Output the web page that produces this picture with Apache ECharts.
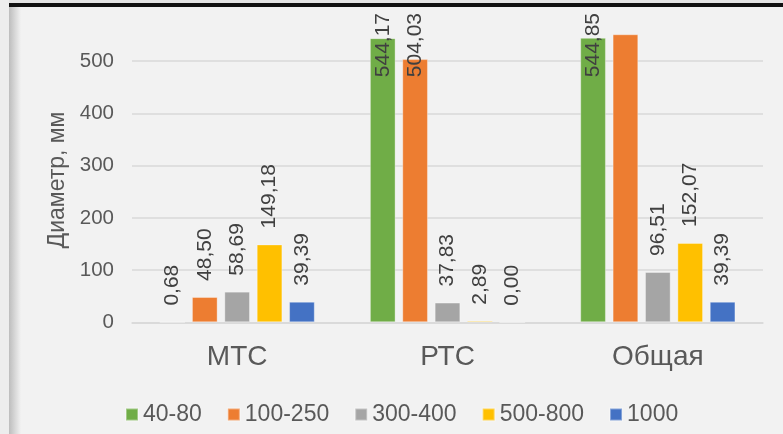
<!DOCTYPE html>
<html>
<head>
<meta charset="utf-8">
<script src="https://cdn.jsdelivr.net/npm/echarts@6/dist/echarts.min.js"></script>
<style>
  html, body, #main { width: 100%; height: 100%; margin: 0; background: #f2f2f2; }
</style>
</head>
<body>
<div id="main"></div>
<script>
var categories = ['МТС', 'РТС', 'Общая'];
var seriesNames = ['40-80', '100-250', '300-400', '500-800', '1000'];
var v40_80 = [0.68, 544.17, 544.85];
var v100_250 = [48.50, 504.03, 551.6];
var v300_400 = [58.69, 37.83, 96.51];
var v500_800 = [149.18, 2.89, 152.07];
var v1000 = [39.39, 0.00, 39.39];
var yTicks = [0, 100, 200, 300, 400, 500, 600];

var colors = ['#70ad47', '#ed7d31', '#a5a5a5', '#ffc000', '#4472c4'];
var allValues = [v40_80, v100_250, v300_400, v500_800, v1000];
var FONT = "'Liberation Sans', Arial, sans-serif";
var LABEL_SIZE = 21, LABEL_DIST = 16, LABEL_TOP = 13;

function fmt(v) { return v.toFixed(2).replace('.', ','); }

var chart = echarts.init(document.getElementById('main'));

function buildSeries(offsets) {
  return seriesNames.map(function (name, si) {
    return {
      name: name,
      type: 'bar',
      barWidth: 25.7,
      barGap: '26%',
      itemStyle: { color: colors[si], borderColor: 'rgba(255,255,255,0.35)', borderWidth: 1 },
      label: {
        show: true,
        position: 'top',
        rotate: 90,
        align: 'left',
        verticalAlign: 'middle',
        distance: LABEL_DIST,
        fontSize: LABEL_SIZE,
        fontFamily: FONT,
        color: '#404040',
        formatter: function (p) { return fmt(p.value); }
      },
      data: allValues[si].map(function (v, ci) {
        var item = { value: v };
        if (si === 1 && ci === 2) {
          item.label = { show: false };
        } else if (offsets && offsets[si][ci]) {
          // offset is in the rotated text frame: -x moves the label down
          item.label = { offset: [-offsets[si][ci], 0] };
        }
        return item;
      })
    };
  });
}

var option = {
  backgroundColor: '#f2f2f2',
  animation: false,
  textStyle: { fontFamily: FONT },
  grid: { left: 132, right: 20, top: 9, bottom: 111.7 },
  legend: {
    left: 125,
    top: 403,
    padding: 0,
    itemWidth: 12,
    itemHeight: 12,
    itemGap: 25,
    icon: 'rect',
    textStyle: { fontSize: 23, color: '#595959', fontFamily: FONT },
    data: seriesNames
  },
  xAxis: {
    type: 'category',
    data: categories,
    axisLine: { lineStyle: { color: '#d9d9d9', width: 1.5 } },
    axisTick: { show: false },
    axisLabel: { fontSize: 28, color: '#595959', margin: 21, fontFamily: FONT }
  },
  yAxis: {
    type: 'value',
    min: yTicks[0],
    max: yTicks[yTicks.length - 1],
    interval: 100,
    axisLine: { show: false },
    axisTick: { show: false },
    axisLabel: {
      fontSize: 20.5, color: '#595959', margin: 18, fontFamily: FONT,
      formatter: function (v) { return v === 600 ? '' : String(v); }
    },
    splitLine: { lineStyle: { color: '#d9d9d9', width: 1.5 } }
  },
  graphic: [
    { type: 'rect', z: 100, shape: { x: 0, y: 7, width: 783, height: 4 }, style: { fill: '#f2f2f2' } },
    { type: 'rect', z: 101, shape: { x: 0, y: 0, width: 783, height: 3 }, style: { fill: '#e4e4e4' } },
    { type: 'rect', z: 101, shape: { x: 0, y: 3, width: 783, height: 4 }, style: { fill: '#111111' } },
    { type: 'rect', z: 102, shape: { x: 0, y: 0, width: 9, height: 434 }, style: { fill: '#ededed' } },
    {
      type: 'rect', z: 102, shape: { x: 9, y: 7, width: 12, height: 427 },
      style: {
        fill: new echarts.graphic.LinearGradient(0, 0, 1, 0, [
          { offset: 0, color: '#bdbdbd' },
          { offset: 1, color: '#f2f2f2' }
        ])
      }
    },
    {
      type: 'text', z: 50, x: 58, y: 180, rotation: Math.PI / 2,
      style: {
        text: 'Диаметр, мм', fontSize: 23, fontFamily: FONT, fill: '#595959',
        textAlign: 'center', textVerticalAlign: 'middle'
      }
    }
  ],
  series: buildSeries(null)
};

chart.setOption(option);

// labels that would run past the plot top are pushed down, as in the original
var ctx = document.createElement('canvas').getContext('2d');
ctx.font = LABEL_SIZE + 'px ' + FONT;
var offsets = allValues.map(function (arr) {
  return arr.map(function (v) {
    var y = chart.convertToPixel({ yAxisIndex: 0 }, v);
    var w = ctx.measureText(fmt(v)).width;
    var anchor = y - LABEL_DIST;
    return anchor - w < LABEL_TOP ? (LABEL_TOP + w - anchor) : 0;
  });
});
chart.setOption({ series: buildSeries(offsets) });
</script>
</body>
</html>
